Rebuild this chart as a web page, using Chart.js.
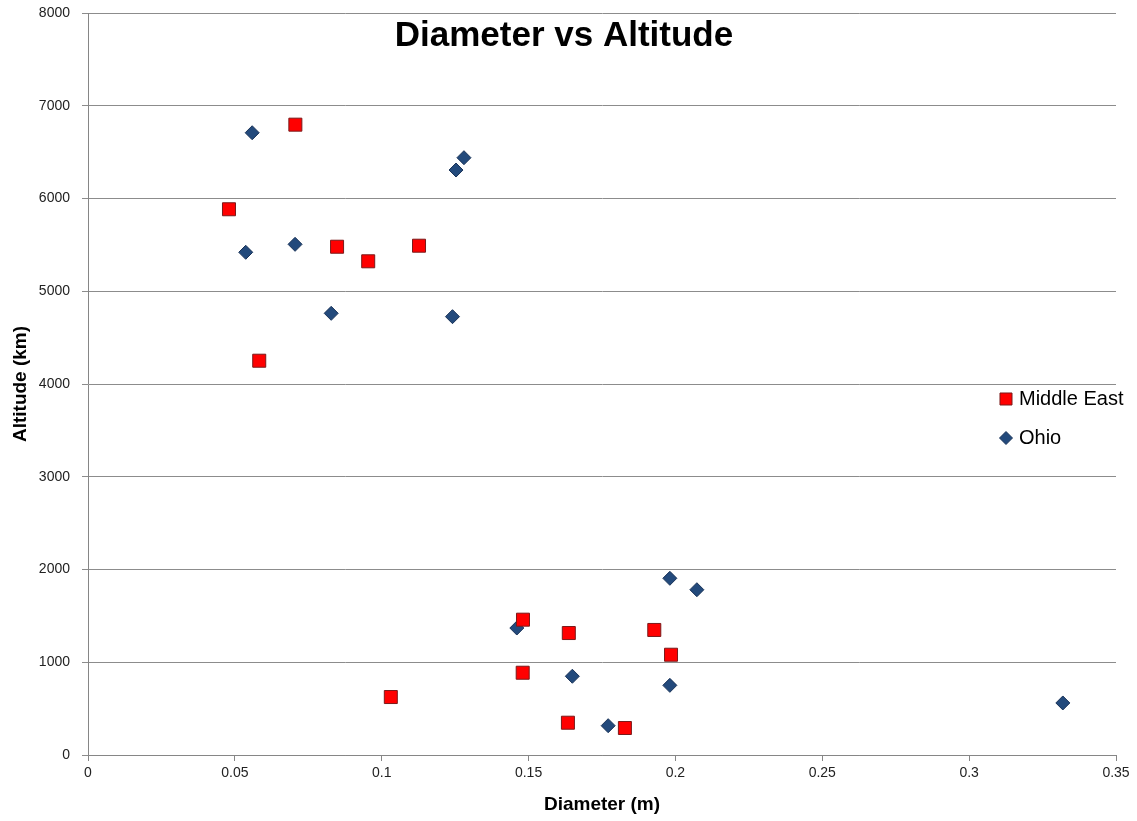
<!DOCTYPE html>
<html>
<head>
<meta charset="utf-8">
<title>Diameter vs Altitude</title>
<script src="https://cdn.jsdelivr.net/npm/chart.js@4/dist/chart.umd.min.js"></script>
<style>
  html, body { margin: 0; padding: 0; background: #ffffff; }
  #wrap { width: 1137px; height: 821px; }
</style>
</head>
<body>
<div id="wrap"><canvas id="c" width="1137" height="821"></canvas></div>
<script>
// ---- Data ----
const chartTitle = "Diameter vs Altitude";
const xAxisTitle = "Diameter (m)";
const yAxisTitle = "Altitude (km)";

const seriesNames = ["Middle East", "Ohio"];

const middleEastDiameter = [0.0706, 0.0480, 0.0848, 0.0954, 0.1127, 0.0583, 0.1481, 0.1637, 0.1928, 0.1985, 0.1480, 0.1031, 0.1634, 0.1828];
const middleEastAltitude = [6796, 5884, 5480, 5323, 5491, 4251, 1459, 1315, 1348, 1081, 887, 625, 348, 291];

const ohioDiameter = [0.0559, 0.1280, 0.1253, 0.0537, 0.0705, 0.0828, 0.1241, 0.1981, 0.2073, 0.1460, 0.1649, 0.1981, 0.1771, 0.3319];
const ohioAltitude = [6709, 6440, 6307, 5420, 5506, 4762, 4726, 1905, 1782, 1369, 849, 751, 316, 561];

const xTickValues = [0, 0.05, 0.1, 0.15, 0.2, 0.25, 0.3, 0.35];
const yTickValues = [0, 1000, 2000, 3000, 4000, 5000, 6000, 7000, 8000];

// ---- Build datasets ----
function toPoints(xs, ys) { return xs.map((x, i) => ({ x: x, y: ys[i] })); }

const FONT = "'Liberation Sans', Arial, sans-serif";
Chart.defaults.font.family = FONT;

const datasets = [
  {
    label: seriesNames[0],
    data: toPoints(middleEastDiameter, middleEastAltitude),
    pointStyle: 'rect',
    pointRadius: 9.2,
    pointHoverRadius: 9.2,
    backgroundColor: '#ff0000',
    borderColor: '#7a1a1a',
    borderWidth: 1
  },
  {
    label: seriesNames[1],
    data: toPoints(ohioDiameter, ohioAltitude),
    pointStyle: 'rectRot',
    pointRadius: 7,
    pointHoverRadius: 7,
    backgroundColor: '#234a7c',
    borderColor: '#1a3358',
    borderWidth: 1
  }
];

// Title and legend drawn over the plot area, as in the reference
const overlayPlugin = {
  id: 'overlay',
  afterDraw(chart) {
    const ctx = chart.ctx;
    ctx.save();
    ctx.fillStyle = '#000000';
    ctx.font = "bold 35px " + FONT;
    ctx.textAlign = 'center';
    ctx.textBaseline = 'middle';
    ctx.fillText(chartTitle, 564, 36);

    const items = chart.data.datasets;
    const legendX = 1006, legendY0 = 399, legendStep = 39;
    items.forEach((ds, i) => {
      const y = legendY0 + i * legendStep;
      ctx.fillStyle = ds.backgroundColor;
      ctx.strokeStyle = ds.borderColor;
      ctx.lineWidth = 1;
      Chart.helpers.drawPoint(ctx, {
        pointStyle: ds.pointStyle,
        radius: ds.pointStyle === 'rect' ? 8.5 : 6.5,
        rotation: 0,
        borderWidth: 1
      }, legendX, y);
      ctx.fillStyle = '#000000';
      ctx.font = "20px " + FONT;
      ctx.textAlign = 'left';
      ctx.textBaseline = 'middle';
      ctx.fillText(ds.label, legendX + 13, y);
    });
    ctx.restore();
  }
};

function fmt(v) { return String(parseFloat(Number(v).toFixed(4))); }

new Chart(document.getElementById('c'), {
  type: 'scatter',
  data: { datasets: datasets },
  options: {
    responsive: false,
    animation: false,
    events: [],
    layout: { padding: { top: 13, right: 21, left: 0, bottom: 0 } },
    plugins: {
      legend: { display: false },
      title: { display: false },
      tooltip: { enabled: false }
    },
    scales: {
      x: {
        type: 'linear',
        min: xTickValues[0],
        max: xTickValues[xTickValues.length - 1],
        afterBuildTicks(scale) { scale.ticks = xTickValues.map(v => ({ value: v })); },
        afterFit(scale) { scale.height = 66; },
        ticks: {
          callback: fmt,
          color: '#222222',
          font: { size: 14 },
          padding: 4,
          maxRotation: 0,
          autoSkip: false
        },
        grid: {
          drawOnChartArea: false,
          drawTicks: true,
          tickLength: 6,
          color: '#868686'
        },
        border: { color: '#868686', width: 1 },
        title: {
          display: true,
          text: xAxisTitle,
          color: '#000000',
          font: { size: 19, weight: 'bold' },
          padding: { top: 0, bottom: 5 }
        }
      },
      y: {
        type: 'linear',
        min: yTickValues[0],
        max: yTickValues[yTickValues.length - 1],
        afterBuildTicks(scale) { scale.ticks = yTickValues.map(v => ({ value: v })); },
        afterFit(scale) { scale.width = 88; scale.paddingTop = 0; scale.paddingBottom = 0; },
        ticks: {
          callback: fmt,
          color: '#222222',
          font: { size: 14 },
          padding: 12,
          autoSkip: false
        },
        grid: {
          drawOnChartArea: true,
          drawTicks: true,
          tickLength: 6,
          color: '#8c8c8c'
        },
        border: { color: '#868686', width: 1 },
        title: {
          display: true,
          text: yAxisTitle,
          color: '#000000',
          font: { size: 19, weight: 'bold' },
          padding: { top: 9, bottom: 0 }
        }
      }
    }
  },
  plugins: [overlayPlugin]
});
</script>
</body>
</html>
